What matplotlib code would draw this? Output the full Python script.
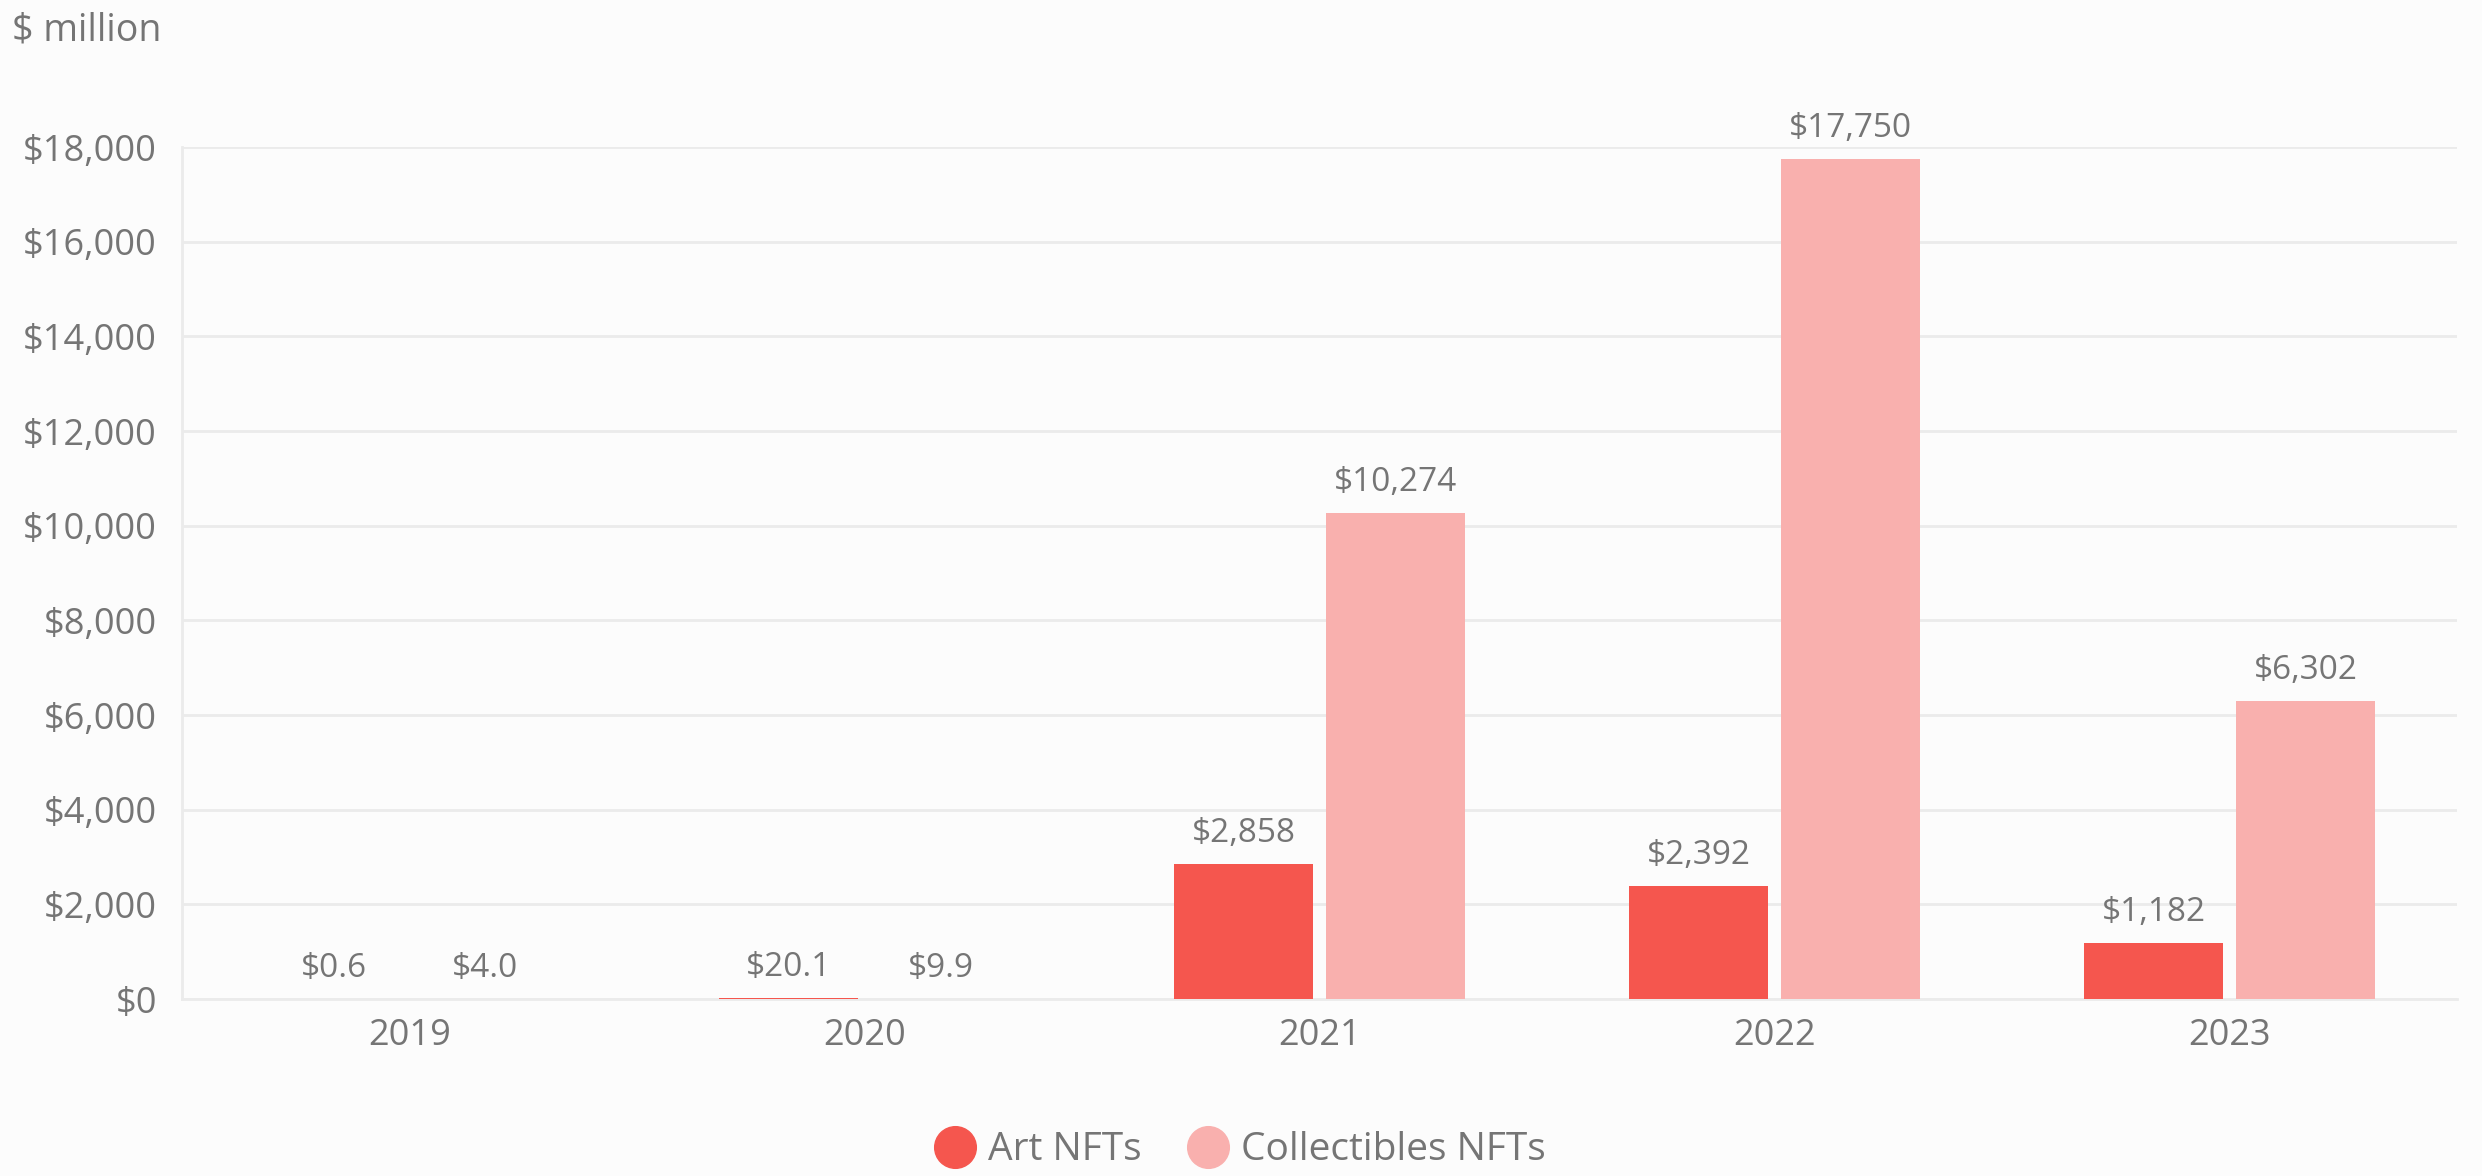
import matplotlib
matplotlib.use('Agg')
import matplotlib.pyplot as plt
from matplotlib.lines import Line2D
import numpy as np

plt.rcParams['font.family'] = ['Open Sans', 'DejaVu Sans']

years = ['2019', '2020', '2021', '2022', '2023']
art = [0.6, 20.1, 2858, 2392, 1182]
collectibles = [4.0, 9.9, 10274, 17750, 6302]
art_labels = ['$0.6', '$20.1', '$2,858', '$2,392', '$1,182']
coll_labels = ['$4.0', '$9.9', '$10,274', '$17,750', '$6,302']
yticks = [0, 2000, 4000, 6000, 8000, 10000, 12000, 14000, 16000, 18000]

ART_COLOR = '#F5564E'
COLL_COLOR = '#F9B0AE'
TEXT = '#757575'
GRID = '#EBEBEB'
BG = '#FCFCFC'

fig = plt.figure(figsize=(24.82, 11.76), dpi=100, facecolor=BG)
ax = fig.add_axes([0.0733, 0.1505, 0.9167, 0.7245], facecolor=BG)

x = np.arange(len(years))
w = 0.306
off = 0.167
b1 = ax.bar(x - off, art, w, color=ART_COLOR, zorder=3)
b2 = ax.bar(x + off, collectibles, w, color=COLL_COLOR, zorder=3)

for bars, labels in ((b1, art_labels), (b2, coll_labels)):
    for bar, lab in zip(bars, labels):
        ax.annotate(lab, (bar.get_x() + bar.get_width() / 2, bar.get_height()),
                    xytext=(0, 10), textcoords='offset points',
                    ha='center', va='bottom', fontsize=24, color=TEXT)

ax.set_xlim(-0.5, len(years) - 0.5)
ax.set_ylim(0, 18000)
ax.set_yticks(yticks)
ax.set_yticklabels(['${:,}'.format(v) for v in yticks])
ax.set_xticks(x)
ax.set_xticklabels(years)
ax.tick_params(axis='both', length=0, labelsize=26, labelcolor=TEXT)
ax.tick_params(axis='y', pad=18)
ax.tick_params(axis='x', pad=14)
ax.grid(axis='y', color=GRID, linewidth=2, zorder=0)
for s in ('top', 'right'):
    ax.spines[s].set_visible(False)
for s in ('left', 'bottom'):
    ax.spines[s].set_color(GRID)
    ax.spines[s].set_linewidth(2)

fig.text(0.005, 0.974, '$ million', fontsize=27, color=TEXT, ha='left', va='center')

handles = [Line2D([], [], marker='o', linestyle='', markersize=30,
                  markerfacecolor=c, markeredgecolor=c) for c in (ART_COLOR, COLL_COLOR)]
fig.legend(handles, ['Art NFTs', 'Collectibles NFTs'], loc='center',
           bbox_to_anchor=(0.5, 0.022), ncol=2, frameon=False, fontsize=28,
           labelcolor=TEXT, handletextpad=0.35, columnspacing=1.2, handlelength=1.0)

fig.savefig('out.png', dpi=100, facecolor=BG)
